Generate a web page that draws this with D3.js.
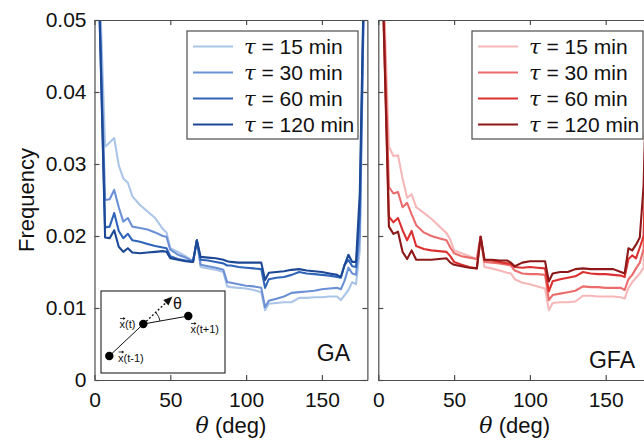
<!DOCTYPE html>
<html><head><meta charset="utf-8">
<script src="https://cdn.jsdelivr.net/npm/d3@7"></script>
<style>body{margin:0;background:#fff} svg{display:block}</style>
</head><body><svg id="c" width="644" height="441"></svg>
<script>
// ---- data ----
const theta = [1,7,10,13,16,19,22,25,30,35,40,45,47.5,50,55,60,65,67.5,70,75,80,85,87.5,90,95,100,105,110,112.5,115,120,125,130,135,140,145,150,155,160,162.5,165,167.5,170,172.5,175,179];
const tauLabels = ["15","30","60","120"];
const gaTau15  = [0.07,0.0324,0.0330,0.0336,0.0298,0.0280,0.0274,0.0255,0.0243,0.0234,0.0225,0.0210,0.0205,0.0183,0.0178,0.0172,0.0165,0.0194,0.0157,0.0155,0.0153,0.0150,0.0130,0.0129,0.0128,0.0127,0.0125,0.0122,0.0097,0.0106,0.0107,0.0108,0.0108,0.0114,0.0114,0.0115,0.0115,0.0116,0.0116,0.0111,0.0118,0.0125,0.0136,0.0133,0.0180,0.07];
const gaTau30  = [0.07,0.0250,0.0251,0.0264,0.0240,0.0220,0.0225,0.0213,0.0211,0.0209,0.0205,0.0200,0.0199,0.0181,0.0174,0.0170,0.0165,0.0194,0.0160,0.0158,0.0156,0.0153,0.0136,0.0135,0.0133,0.0131,0.0130,0.0128,0.0101,0.0110,0.0113,0.0116,0.0121,0.0122,0.0123,0.0124,0.0126,0.0127,0.0128,0.0126,0.0138,0.0156,0.0148,0.0146,0.0200,0.07];
const gaTau60  = [0.07,0.0212,0.0213,0.0232,0.0207,0.0197,0.0203,0.0194,0.0192,0.0189,0.0186,0.0184,0.0183,0.0172,0.0168,0.0166,0.0164,0.0194,0.0167,0.0166,0.0164,0.0162,0.0159,0.0159,0.0157,0.0156,0.0155,0.0154,0.0128,0.0140,0.0142,0.0143,0.0146,0.0150,0.0148,0.0147,0.0146,0.0145,0.0143,0.0142,0.0160,0.0167,0.0158,0.0157,0.0230,0.07];
const gaTau120 = [0.07,0.0198,0.0197,0.0208,0.0185,0.0178,0.0183,0.0177,0.0176,0.0177,0.0178,0.0179,0.0178,0.0169,0.0167,0.0165,0.0164,0.0194,0.0171,0.0170,0.0169,0.0167,0.0165,0.0164,0.0163,0.0163,0.0163,0.0163,0.0139,0.0149,0.0150,0.0151,0.0153,0.0154,0.0152,0.0151,0.0150,0.0148,0.0146,0.0143,0.0160,0.0174,0.0164,0.0164,0.0260,0.07];
const gfaTau15  = [0.07,0.0324,0.0311,0.0312,0.0280,0.0253,0.0258,0.0240,0.0232,0.0224,0.0214,0.0204,0.0195,0.0180,0.0176,0.0172,0.0168,0.0199,0.0157,0.0155,0.0152,0.0149,0.0148,0.0140,0.0135,0.0133,0.0130,0.0127,0.0097,0.0107,0.0108,0.0108,0.0109,0.0117,0.0117,0.0116,0.0116,0.0116,0.0115,0.0113,0.0128,0.0136,0.0142,0.0148,0.0156,0.05];
const gfaTau30  = [0.07,0.0268,0.0259,0.0261,0.0240,0.0246,0.0230,0.0215,0.0205,0.0200,0.0197,0.0194,0.0184,0.0176,0.0172,0.0170,0.0168,0.0199,0.0164,0.0163,0.0162,0.0160,0.0159,0.0152,0.0148,0.0147,0.0147,0.0146,0.0111,0.0118,0.0120,0.0122,0.0124,0.0130,0.0129,0.0129,0.0128,0.0128,0.0128,0.0125,0.0140,0.0146,0.0155,0.0163,0.0182,0.05];
const gfaTau60  = [0.07,0.0227,0.0219,0.0225,0.0208,0.0194,0.0207,0.0186,0.0182,0.0180,0.0179,0.0178,0.0172,0.0164,0.0160,0.0157,0.0155,0.0199,0.0167,0.0166,0.0164,0.0162,0.0161,0.0157,0.0156,0.0157,0.0156,0.0155,0.0123,0.0137,0.0140,0.0142,0.0144,0.0150,0.0148,0.0147,0.0147,0.0146,0.0145,0.0143,0.0168,0.0173,0.0169,0.0184,0.0200,0.05];
const gfaTau120 = [0.07,0.0213,0.0203,0.0206,0.0178,0.0168,0.0180,0.0167,0.0167,0.0167,0.0168,0.0169,0.0163,0.0160,0.0158,0.0156,0.0155,0.0199,0.0167,0.0167,0.0166,0.0166,0.0163,0.0158,0.0163,0.0165,0.0165,0.0165,0.0137,0.0148,0.0150,0.0150,0.0154,0.0155,0.0154,0.0154,0.0154,0.0154,0.0150,0.0148,0.0183,0.0180,0.0188,0.0198,0.0270,0.06];
const yTicks = [0,0.01,0.02,0.03,0.04,0.05];
const xTicks = [0,50,100,150];
const blues = ["#abc5e8","#6c90d5","#3064b8","#1c4895"];
const reds  = ["#f5b7b7","#eb6c6c","#dc3131","#8c1818"];

// ---- drawing ----
const svg = d3.select("#c");
const FONT = "'Liberation Sans', Arial, Helvetica, sans-serif";
const yTop = 20, yBot = 380;
const y = d3.scaleLinear().domain([0,0.05]).range([yBot, yTop]);
const axisColor = "#4d4d4d";

function styleAxis(g){
  g.selectAll("path.domain").attr("stroke", axisColor).attr("stroke-width",1.2);
  g.selectAll(".tick line").attr("stroke", axisColor).attr("stroke-width",1.2);
  g.selectAll("text").attr("font-family", FONT).attr("font-size", 21).attr("fill","#111");
}

function panel(id, x0, series, colors, name, nameX, nameY, showYLabels, legX) {
  const x = d3.scaleLinear().domain([0,180]).range([x0, x0 + 180*1.516]);
  const x1 = x(180);
  const g = svg.append("g");
  const clipId = "clip"+id;
  svg.append("clipPath").attr("id", clipId).append("rect")
     .attr("x", x0).attr("y", yTop).attr("width", x1-x0).attr("height", yBot-yTop);

  const line = d3.line().x((d,i)=>x(theta[i])).y(d=>y(d));
  const lg = g.append("g").attr("clip-path", `url(#${clipId})`);
  series.forEach((s,k)=>{
    lg.append("path").datum(s).attr("d", line).attr("fill","none")
      .attr("stroke", colors[k]).attr("stroke-width", 2.1).attr("stroke-linejoin","round");
  });

  const gb = g.append("g").attr("transform",`translate(0,${yBot})`)
    .call(d3.axisBottom(x).tickValues(xTicks).tickSizeInner(-5).tickSizeOuter(0).tickPadding(12));
  styleAxis(gb);
  const gt = g.append("g").attr("transform",`translate(0,${yTop})`)
    .call(d3.axisTop(x).tickValues(xTicks).tickSizeInner(-5).tickSizeOuter(0).tickFormat(""));
  styleAxis(gt);
  const gl = g.append("g").attr("transform",`translate(${x0},0)`)
    .call(d3.axisLeft(y).tickValues(yTicks).tickSizeInner(-5).tickSizeOuter(0).tickPadding(8)
      .tickFormat(d => showYLabels ? (d===0 ? "0" : d.toFixed(2)) : ""));
  styleAxis(gl);
  const gr = g.append("g").attr("transform",`translate(${x1},0)`)
    .call(d3.axisRight(y).tickValues(yTicks).tickSizeInner(-5).tickSizeOuter(0).tickFormat(""));
  styleAxis(gr);

  const xl = g.append("text").attr("x",(x0+x1)/2).attr("y",433).attr("text-anchor","middle")
    .attr("font-family",FONT).attr("font-size",22).attr("fill","#111");
  xl.append("tspan").attr("font-family","'DejaVu Serif', 'Liberation Serif', serif").attr("font-style","italic").text("θ");
  xl.append("tspan").text(" (deg)");

  g.append("text").attr("x",nameX).attr("y",nameY).attr("text-anchor","end")
    .attr("font-family",FONT).attr("font-size",23).attr("fill","#111").text(name);

  const lb = g.append("g");
  lb.append("rect").attr("x",legX).attr("y",31).attr("width",171).attr("height",108)
    .attr("fill","#fff").attr("stroke",axisColor).attr("stroke-width",1.2);
  tauLabels.forEach((t,k)=>{
    const cy = 46.5 + k*26;
    lb.append("line").attr("x1",legX+6).attr("x2",legX+46).attr("y1",cy).attr("y2",cy)
      .attr("stroke",colors[k]).attr("stroke-width",2.1);
    const tx = lb.append("text").attr("x",legX+57).attr("y",cy+7.5)
      .attr("font-family",FONT).attr("font-size",21).attr("fill","#111");
    tx.append("tspan").attr("font-family","'DejaVu Serif', 'Liberation Serif', serif").attr("font-style","italic").text("τ");
    tx.append("tspan").text(" = " + t + " min");
  });
  return {x, g};
}

panel("a", 94.5, [gaTau15,gaTau30,gaTau60,gaTau120], blues, "GA", 350, 361, true, 187);
panel("b", 378.3, [gfaTau15,gfaTau30,gfaTau60,gfaTau120], reds, "GFA", 635, 368, false, 472);

svg.append("text").attr("transform","translate(34,200) rotate(-90)").attr("text-anchor","middle")
  .attr("font-family",FONT).attr("font-size",22).attr("fill","#111").text("Frequency");

// ---- inset diagram ----
const ins = svg.append("g");
ins.append("rect").attr("x",101).attr("y",291).attr("width",124).attr("height",82)
  .attr("fill","#fff").attr("stroke","#222").attr("stroke-width",1.1);
const P0=[109.3,356], P1=[143.3,324], P2=[188.3,316];
ins.append("path").attr("d",`M${P0}L${P1}L${P2}`).attr("fill","none").attr("stroke","#111").attr("stroke-width",1);
const ux=(P1[0]-P0[0]), uy=(P1[1]-P0[1]); const ul=Math.hypot(ux,uy); const u=[ux/ul,uy/ul];
const dEnd=[P1[0]+u[0]*31, P1[1]+u[1]*31];
ins.append("path").attr("d",`M${P1}L${dEnd}`).attr("stroke","#111").attr("stroke-width",1.4).attr("stroke-dasharray","2,2");
const tip=[P1[0]+u[0]*40, P1[1]+u[1]*40]; const nrm=[-u[1],u[0]];
ins.append("path").attr("d",`M${tip}L${dEnd[0]+nrm[0]*3.8},${dEnd[1]+nrm[1]*3.8}L${dEnd[0]-nrm[0]*3.8},${dEnd[1]-nrm[1]*3.8}Z`).attr("fill","#111");
const a1=Math.atan2(uy,ux), a2=Math.atan2(P2[1]-P1[1],P2[0]-P1[0]), R=17;
ins.append("path").attr("d",`M${P1[0]+R*Math.cos(a1)},${P1[1]+R*Math.sin(a1)}A${R},${R} 0 0 1 ${P1[0]+R*Math.cos(a2)},${P1[1]+R*Math.sin(a2)}`)
  .attr("fill","none").attr("stroke","#111").attr("stroke-width",0.9);
[P0,P1,P2].forEach(p=>ins.append("circle").attr("cx",p[0]).attr("cy",p[1]).attr("r",4.2).attr("fill","#000"));
ins.append("text").attr("x",173).attr("y",308.5).attr("font-family",FONT).attr("font-size",16).attr("fill","#111").text("θ");
function vecLabel(x0,yb,sub){
  ins.append("text").attr("x",x0).attr("y",yb).attr("font-family",FONT).attr("font-size",11).attr("fill","#111").text("x"+sub);
  const ay=yb-9.5;
  ins.append("path").attr("d",`M${x0+0.5},${ay}L${x0+5.5},${ay}`).attr("stroke","#111").attr("stroke-width",0.8);
  ins.append("path").attr("d",`M${x0+6},${ay}L${x0+3.8},${ay-1.6}L${x0+3.8},${ay+1.6}Z`).attr("fill","#111");
}
vecLabel(119.5,328,"(t)");
vecLabel(190.5,333,"(t+1)");
vecLabel(118,361.5,"(t-1)");
</script></body></html>
